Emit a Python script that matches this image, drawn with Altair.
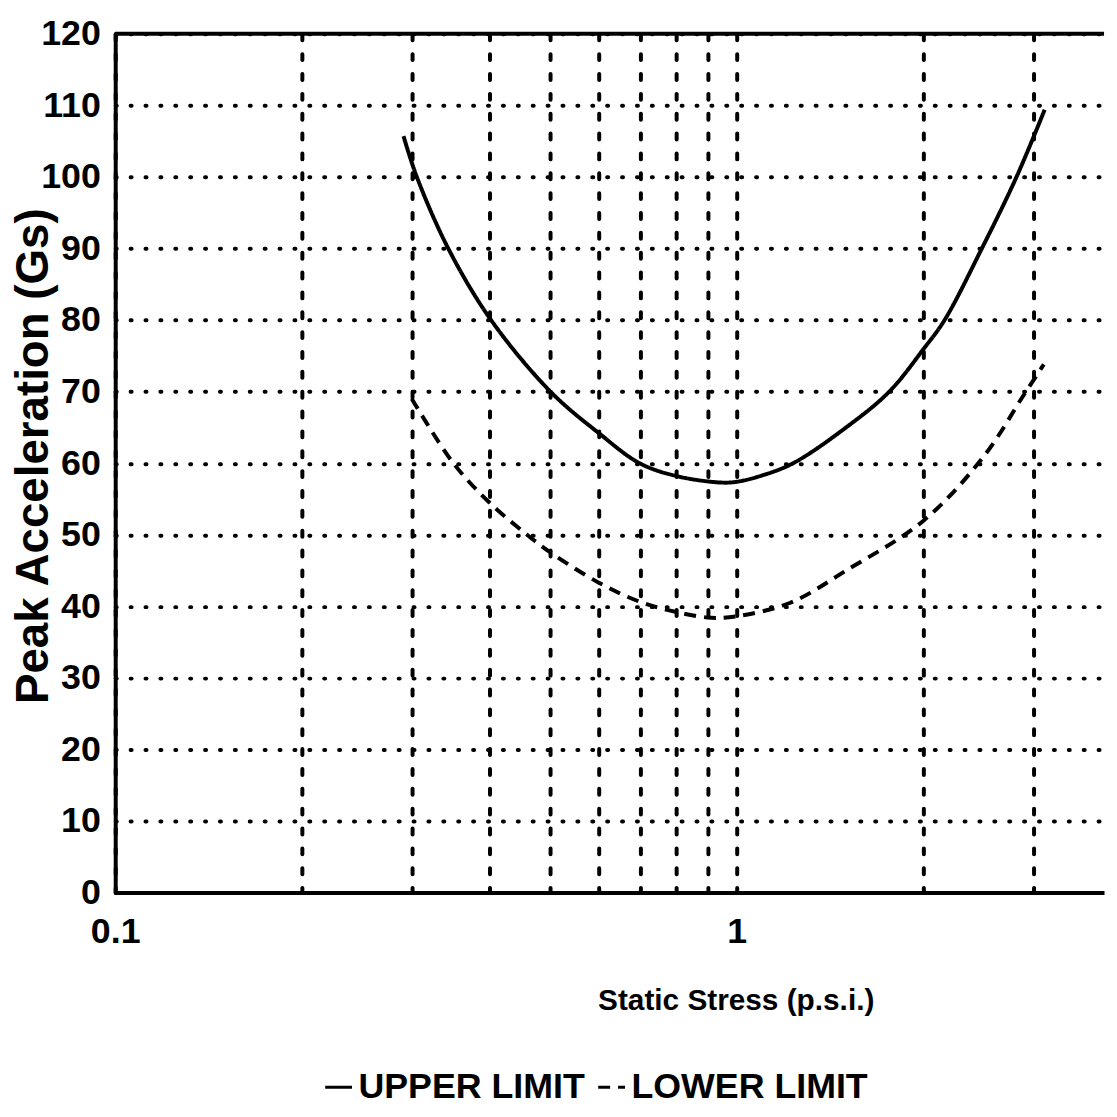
import altair as alt
import pandas as pd

# Upper limit (solid) curve: static stress (p.s.i.) vs peak acceleration (Gs)
upper_x = [0.291, 0.3057, 0.3435, 0.4025, 0.5016, 0.6, 0.6977, 0.8, 0.94, 1.0, 1.1, 1.233, 1.5, 1.76, 2.0, 2.16, 2.48, 2.82, 3.13]
upper_y = [105.7, 100, 90, 80, 70, 64.2, 60, 58.2, 57.3, 57.4, 58.3, 60, 65, 70, 76, 80, 90, 100, 109.4]

# Lower limit (dashed) curve
lower_x = [0.3, 0.35, 0.4, 0.46, 0.5, 0.6, 0.7, 0.8, 0.91, 1.0, 1.22, 1.5, 2.0, 2.5, 2.9, 3.12]
lower_y = [69, 60, 54.5, 50, 47.6, 43.3, 40.6, 39.2, 38.4, 38.6, 40.5, 45, 52, 61, 69.6, 73.8]

series_names = ["UPPER LIMIT", "LOWER LIMIT"]
x_ticks = [0.1, 0.2, 0.3, 0.4, 0.5, 0.6, 0.7, 0.8, 0.9, 1, 2, 3]
y_ticks = [0, 10, 20, 30, 40, 50, 60, 70, 80, 90, 100, 110, 120]
y_top = [120]

df = pd.concat([
    pd.DataFrame({"stress": upper_x, "accel": upper_y, "series": series_names[0]}),
    pd.DataFrame({"stress": lower_x, "accel": lower_y, "series": series_names[1]}),
], ignore_index=True)

BOLD = "Liberation Sans, Arial, Helvetica, sans-serif"

x_axis = alt.Axis(
    values=x_ticks,
    labelExpr="datum.value == 0.1 ? '0.1' : (datum.value == 1 ? '1' : '')",
    title="Static Stress (p.s.i.)",
    titleFont=BOLD, titleFontSize=30, titleFontWeight="bold", titleColor="black",
    titleX=625, titleY=109, titleAlign="center", titleBaseline="middle",
    labelFont=BOLD, labelFontSize=36, labelFontWeight="bold", labelColor="black",
    labelPadding=22, labelFlush=False, labelOverlap=False,
    ticks=False, tickSize=0,
    domain=True, domainColor="black", domainWidth=4,
    grid=True, gridColor="black", gridOpacity=1, gridWidth=4, gridDash=[6, 14], gridCap="round",
)

y_axis = alt.Axis(
    values=y_ticks,
    title="Peak Acceleration (Gs)",
    titleFont=BOLD, titleFontSize=46, titleFontWeight="bold", titleColor="black",
    titleAngle=270, titleX=-82, titleY=425, titleAlign="center", titleBaseline="middle",
    labelFont=BOLD, labelFontSize=36, labelFontWeight="bold", labelColor="black",
    labelPadding=15, labelOverlap=False, labelFlush=False,
    ticks=False, tickSize=0,
    domain=True, domainColor="black", domainWidth=4,
    grid=True, gridColor="black", gridOpacity=1, gridWidth=4, gridDash=[1, 14], gridCap="round",
)

lines = alt.Chart(df).mark_line(color="black", strokeWidth=4, interpolate="catmull-rom").encode(
    x=alt.X("stress:Q", scale=alt.Scale(type="log", domain=[0.1, 3.9], nice=False), axis=x_axis),
    y=alt.Y("accel:Q", scale=alt.Scale(domain=[0, 120], nice=False), axis=y_axis),
    strokeDash=alt.StrokeDash(
        "series:N",
        scale=alt.Scale(domain=series_names, range=[[1, 0], [12, 8]]),
        legend=alt.Legend(
            title=None, orient="none", legendX=207, legendY=1043, direction="horizontal",
            symbolType="stroke", symbolStrokeColor="black", symbolStrokeWidth=3,
            symbolSize=729,
            labelFont=BOLD, labelFontSize=36, labelFontWeight="bold", labelColor="black",
            labelOffset=2, labelLimit=400, columnPadding=6,
        ),
    ),
)

top_rule = alt.Chart(pd.DataFrame({"v": y_top})).mark_rule(color="black", strokeWidth=4).encode(
    y=alt.Y("v:Q")
)

chart = alt.layer(lines, top_rule).properties(
    width=996, height=865, autosize="none",
    padding={"left": 108, "top": 22, "right": 5, "bottom": 210},
    background="white",
).configure_view(stroke=None)

chart.save("out.html", embed_options={"renderer": "svg", "actions": False})
